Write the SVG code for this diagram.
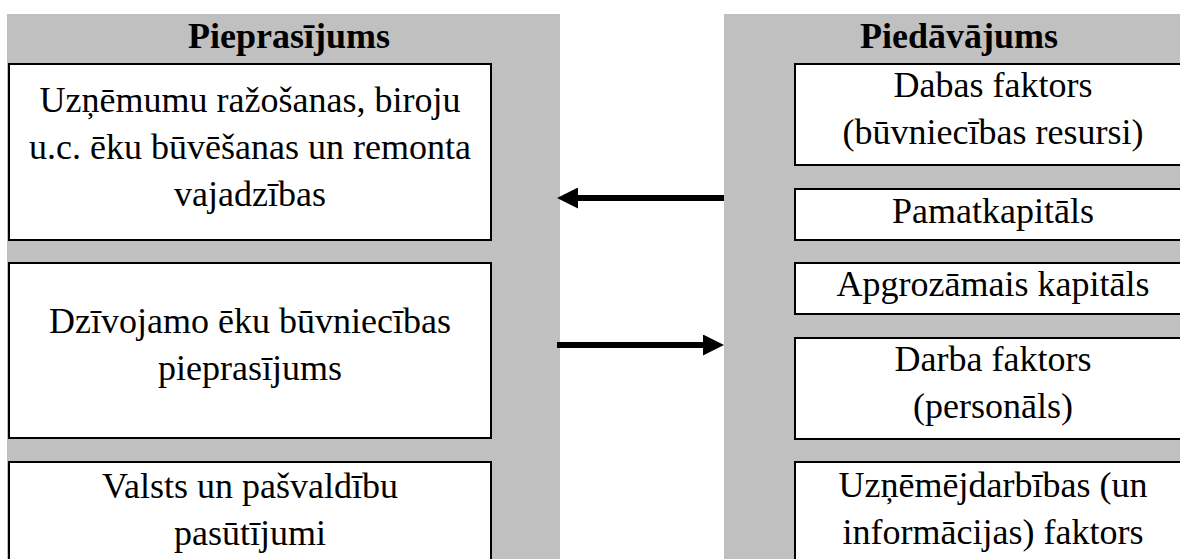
<svg xmlns="http://www.w3.org/2000/svg" width="1180" height="559" viewBox="0 0 1180 559">
<defs>
<style>
.bg{fill:#c0c0c0}
.box{fill:#ffffff;stroke:#000000;stroke-width:2}
.hd{font-family:"Liberation Serif","Times New Roman",serif;font-size:36px;font-weight:bold;fill:#000;text-anchor:middle}
.tx{font-family:"Liberation Serif","Times New Roman",serif;font-size:36px;fill:#000;text-anchor:middle}
.arr{stroke:#000;stroke-width:6;fill:none}
</style>
<marker id="ah" markerUnits="userSpaceOnUse" viewBox="0 0 21 21" markerWidth="21" markerHeight="21" refX="13" refY="10.5" orient="auto">
<path d="M0,0 L21,10.5 L0,21 Z" fill="#000"/>
</marker>
</defs>
<rect width="1180" height="559" fill="#ffffff"/>
<g id="demand-column">
<rect class="bg" x="7" y="14" width="553" height="545"/>
<text class="hd" x="289" y="48">Pieprasījums</text>
</g>
<g id="supply-column">
<rect class="bg" x="724" y="14" width="456" height="545"/>
<text class="hd" x="959" y="48">Piedāvājums</text>
</g>
<g id="demand-1">
<rect class="box" x="9" y="64" width="482" height="176"/>
<text class="tx" x="250" y="112">Uzņēmumu ražošanas, biroju</text>
<text class="tx" x="250" y="159">u.c. ēku būvēšanas un remonta</text>
<text class="tx" x="250" y="206">vajadzības</text>
</g>
<g id="demand-2">
<rect class="box" x="9" y="263" width="482" height="175"/>
<text class="tx" x="250" y="333">Dzīvojamo ēku būvniecības</text>
<text class="tx" x="250" y="380">pieprasījums</text>
</g>
<g id="demand-3">
<rect class="box" x="9" y="462" width="482" height="110"/>
<text class="tx" x="250" y="498">Valsts un pašvaldību</text>
<text class="tx" x="250" y="545">pasūtījumi</text>
</g>
<g id="supply-1">
<rect class="box" x="795" y="64" width="397" height="101"/>
<text class="tx" x="993" y="97">Dabas faktors</text>
<text class="tx" x="993" y="144">(būvniecības resursi)</text>
</g>
<g id="supply-2">
<rect class="box" x="795" y="189" width="397" height="51"/>
<text class="tx" x="993" y="223">Pamatkapitāls</text>
</g>
<g id="supply-3">
<rect class="box" x="795" y="263" width="397" height="51"/>
<text class="tx" x="993" y="296">Apgrozāmais kapitāls</text>
</g>
<g id="supply-4">
<rect class="box" x="795" y="338" width="397" height="101"/>
<text class="tx" x="993" y="371">Darba faktors</text>
<text class="tx" x="993" y="418">(personāls)</text>
</g>
<g id="supply-5">
<rect class="box" x="795" y="462" width="397" height="110"/>
<text class="tx" x="993" y="497">Uzņēmējdarbības (un</text>
<text class="tx" x="993" y="544">informācijas) faktors</text>
</g>
<g id="connectors">
<line class="arr" x1="724" y1="198" x2="565" y2="198" marker-end="url(#ah)"/>
<line class="arr" x1="557" y1="345" x2="716" y2="345" marker-end="url(#ah)"/>
</g>
</svg>
